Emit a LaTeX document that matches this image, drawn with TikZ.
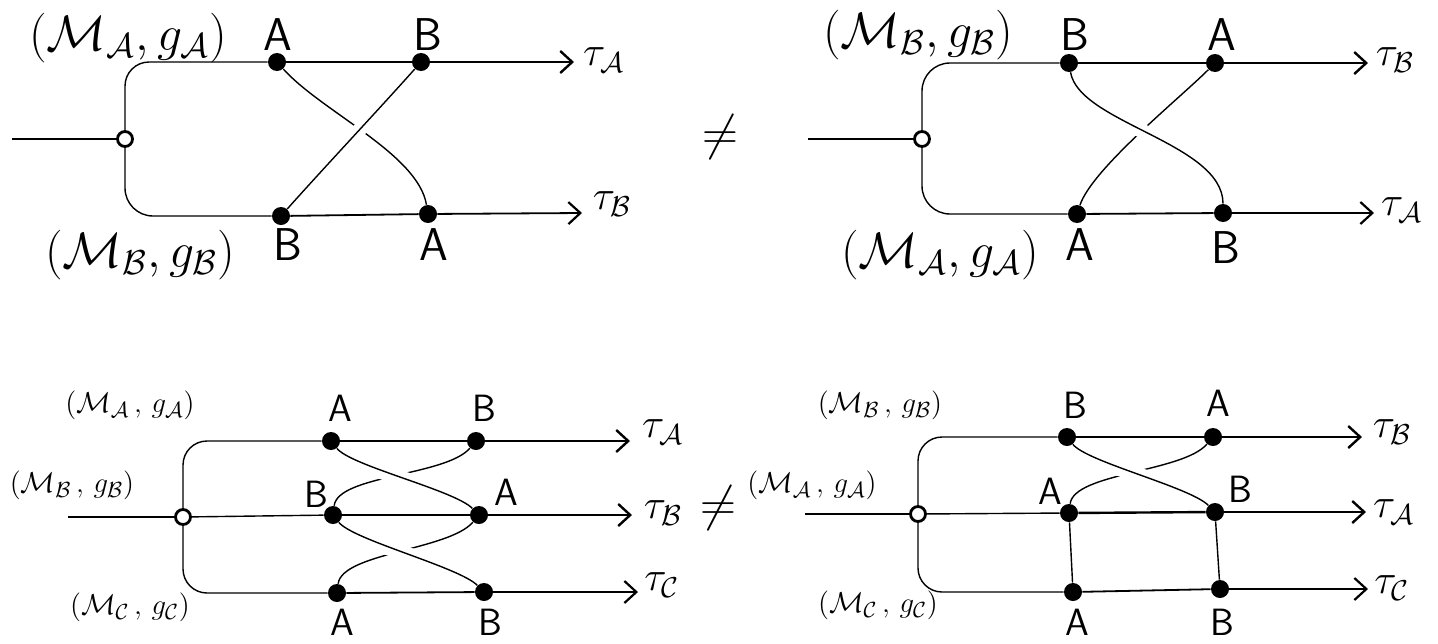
\documentclass[tikz,border=0pt]{standalone}
\usepackage{amsmath,amssymb}
\usepackage{tikz}
\usetikzlibrary{arrows.meta}
\tikzset{
    % dots on the rails
    dot/.style={circle, fill=black, inner sep=0pt, minimum size=9pt},
    splitdot/.style={circle, draw=black, fill=white, line width=1.4pt, inner sep=0pt, minimum size=7.5pt},
    % lines
    rail/.style={line width=0.7pt},
    wire/.style={line width=1.2pt},
    lowwire/.style={line width=0.9pt},
    outarrow/.style={wire, -{Straight Barb[length=6pt, width=11pt, line width=1.2pt]}},
    lowarrow/.style={lowwire, -{Straight Barb[length=6pt, width=11pt, line width=1.1pt]}},
    strand/.style={line width=0.7pt},
    overstrand/.style={strand, preaction={draw=white, line width=7pt, shorten <=8pt, shorten >=8pt}},
    % texts
    bigpt/.style={font=\sffamily\fontsize{23}{25}\selectfont, inner sep=0pt},
    smallpt/.style={font=\sffamily\fontsize{19}{21}\selectfont, inner sep=0pt},
    bigspace/.style={font=\fontsize{24}{27}\selectfont, inner sep=0pt},
    smallspace/.style={font=\fontsize{15}{17}\selectfont, inner sep=0pt},
    outlabel/.style={font=\fontsize{22}{24}\selectfont, inner sep=0pt}
}
\begin{document}
\begin{tikzpicture}[x=0.5pt, y=-0.5pt]
\useasboundingbox (0,0) rectangle (1438,643);

% ---- top left: A then B on top, B then A below
\coordinate (in1) at (12,139);
\node[splitdot] (s1) at (125,139) {};
\node[dot] (a1u) at (277,62) {};
\node[dot] (b1u) at (421,62) {};
\node[dot] (b1d) at (281,216) {};
\node[dot] (a1d) at (428,214) {};
\coordinate (e1u) at (574,62);
\coordinate (e1d) at (582,213);

\draw[rail] (in1) -- (s1);
\draw[rail, rounded corners=12pt] (s1) |- (a1u);
\draw[rail, rounded corners=14pt] (s1) |- (b1d);
\draw[wire] (a1u) -- (b1u);
\draw[outarrow] (b1u) -- (e1u);
\draw[lowwire] (b1d) -- (a1d);
\draw[lowarrow] (a1d) -- (e1d);
\draw[strand] (a1u) .. controls +(45,50) and +(-10,-60) .. (a1d);
\draw[overstrand] (b1d) .. controls +(40,-45) and +(-40,45) .. (b1u);

\node[bigspace] (m1u) at (128,38) {$(\mathcal{M}_{\mathcal{A}}, g_{\mathcal{A}})$};
\node[bigspace] (m1d) at (140,255) {$(\mathcal{M}_{\mathcal{B}}, g_{\mathcal{B}})$};
\node[bigpt] (la1u) at (278,35) {A};
\node[bigpt] (lb1u) at (428,35) {B};
\node[bigpt] (lb1d) at (288,245) {B};
\node[bigpt] (la1d) at (434,245) {A};
\node[outlabel] (t1u) at (604,60) {$\tau_{\mathcal{A}}$};
\node[outlabel] (t1d) at (612,204) {$\tau_{\mathcal{B}}$};

\node[bigspace] (ne1) at (720,137) {$\neq$};

% ---- top right: B then A on top, A then B below
\coordinate (in2) at (808,139);
\node[splitdot] (s2) at (922,139) {};
\node[dot] (b2u) at (1069,63) {};
\node[dot] (a2u) at (1215,63) {};
\node[dot] (a2d) at (1077,214) {};
\node[dot] (b2d) at (1223,213) {};
\coordinate (e2u) at (1368,63);
\coordinate (e2d) at (1374,213);

\draw[rail] (in2) -- (s2);
\draw[rail, rounded corners=14pt] (s2) |- (b2u);
\draw[rail, rounded corners=14pt] (s2) |- (a2d);
\draw[wire] (b2u) -- (a2u);
\draw[outarrow] (a2u) -- (e2u);
\draw[lowwire] (a2d) -- (b2d);
\draw[lowarrow] (b2d) -- (e2d);
\draw[strand] (a2d) .. controls +(15,-45) and +(-35,35) .. (a2u);
\draw[overstrand] (b2u) .. controls +(10,60) and +(0,-70) .. (b2d);

\node[bigspace] (m2u) at (918,35) {$(\mathcal{M}_{\mathcal{B}}, g_{\mathcal{B}})$};
\node[bigspace] (m2d) at (940,255) {$(\mathcal{M}_{\mathcal{A}}, g_{\mathcal{A}})$};
\node[bigpt] (lb2u) at (1075,35) {B};
\node[bigpt] (la2u) at (1222,35) {A};
\node[bigpt] (la2d) at (1080,245) {A};
\node[bigpt] (lb2d) at (1226,248) {B};
\node[outlabel] (t2u) at (1395,60) {$\tau_{\mathcal{B}}$};
\node[outlabel] (t2d) at (1402,210) {$\tau_{\mathcal{A}}$};

% ---- bottom left: three rails, two crossings
\coordinate (in3) at (68,517);
\node[splitdot] (s3) at (183,517) {};
\node[dot] (a3u) at (331,441) {};
\node[dot] (b3u) at (476,441) {};
\node[dot] (b3m) at (333,515) {};
\node[dot] (a3m) at (479,515) {};
\node[dot] (a3d) at (337,593) {};
\node[dot] (b3d) at (484,592) {};
\coordinate (e3u) at (630,441);
\coordinate (e3m) at (632,515);
\coordinate (e3d) at (638,592);

\draw[rail] (in3) -- (s3);
\draw[rail, rounded corners=12pt] (s3) |- (a3u);
\draw[rail] (s3) -- (b3m);
\draw[rail, rounded corners=12pt] (s3) |- (a3d);
\draw[wire] (a3u) -- (b3u);
\draw[outarrow] (b3u) -- (e3u);
\draw[wire] (b3m) -- (a3m);
\draw[outarrow] (a3m) -- (e3m);
\draw[lowwire] (a3d) -- (b3d);
\draw[lowarrow] (b3d) -- (e3d);
\draw[strand] (b3u) .. controls +(-30,35) and +(5,-40) .. (b3m);
\draw[overstrand] (a3u) .. controls +(20,25) and +(-25,-25) .. (a3m);
\draw[strand] (a3m) .. controls +(-30,35) and +(5,-40) .. (a3d);
\draw[overstrand] (b3m) .. controls +(20,25) and +(-25,-25) .. (b3d);

\node[smallspace] (m3u) at (130,405) {$(\mathcal{M}_{\mathcal{A}}\,,\,g_{\mathcal{A}})$};
\node[smallspace] (m3m) at (72,485) {$(\mathcal{M}_{\mathcal{B}}\,,\,g_{\mathcal{B}})$};
\node[smallspace] (m3d) at (130,607) {$(\mathcal{M}_{\mathcal{C}}\,,\,g_{\mathcal{C}})$};
\node[smallpt] (la3u) at (340,408) {A};
\node[smallpt] (lb3u) at (484,408) {B};
\node[smallpt] (lb3m) at (316,494) {B};
\node[smallpt] (la3m) at (506,492) {A};
\node[smallpt] (la3d) at (342,622) {A};
\node[smallpt] (lb3d) at (490,622) {B};
\node[outlabel] (t3u) at (663,432) {$\tau_{\mathcal{A}}$};
\node[outlabel] (t3m) at (663,513) {$\tau_{\mathcal{B}}$};
\node[outlabel] (t3d) at (662,585) {$\tau_{\mathcal{C}}$};

\node[font=\fontsize{32}{34}\selectfont, inner sep=0pt] (ne2) at (718,508) {$\neq$};

% ---- bottom right: one crossing, then straight
\coordinate (in4) at (805,514);
\node[splitdot] (s4) at (918,514) {};
\node[dot] (b4u) at (1067,437) {};
\node[dot] (a4u) at (1213,437) {};
\node[dot] (a4m) at (1069,513) {};
\node[dot] (b4m) at (1215,512) {};
\node[dot] (a4d) at (1073,592) {};
\node[dot] (b4d) at (1220,589) {};
\coordinate (e4u) at (1362,437);
\coordinate (e4m) at (1366,512);
\coordinate (e4d) at (1368,589);

\draw[rail] (in4) -- (s4);
\draw[rail, rounded corners=12pt] (s4) |- (b4u);
\draw[rail] (s4) -- (a4m);
\draw[rail, rounded corners=12pt] (s4) |- (a4d);
\draw[wire] (b4u) -- (a4u);
\draw[outarrow] (a4u) -- (e4u);
\draw[wire] (a4m) -- (b4m);
\draw[outarrow] (b4m) -- (e4m);
\draw[lowwire] (a4d) -- (b4d);
\draw[lowarrow] (b4d) -- (e4d);
\draw[strand] (a4u) .. controls +(-30,35) and +(5,-40) .. (a4m);
\draw[overstrand] (b4u) .. controls +(20,25) and +(-25,-25) .. (b4m);
\draw[strand] (a4m) -- (a4d);
\draw[strand] (b4m) -- (b4d);

\node[smallspace] (m4u) at (880,405) {$(\mathcal{M}_{\mathcal{B}}\,,\,g_{\mathcal{B}})$};
\node[smallspace] (m4m) at (812,485) {$(\mathcal{M}_{\mathcal{A}}\,,\,g_{\mathcal{A}})$};
\node[smallspace] (m4d) at (878,605) {$(\mathcal{M}_{\mathcal{C}}\,,\,g_{\mathcal{C}})$};
\node[smallpt] (lb4u) at (1075,405) {B};
\node[smallpt] (la4u) at (1218,403) {A};
\node[smallpt] (la4m) at (1050,491) {A};
\node[smallpt] (lb4m) at (1240,489) {B};
\node[smallpt] (la4d) at (1077,622) {A};
\node[smallpt] (lb4d) at (1222,622) {B};
\node[outlabel] (t4u) at (1392,432) {$\tau_{\mathcal{B}}$};
\node[outlabel] (t4m) at (1394,512) {$\tau_{\mathcal{A}}$};
\node[outlabel] (t4d) at (1392,588) {$\tau_{\mathcal{C}}$};
\end{tikzpicture}
\end{document}
